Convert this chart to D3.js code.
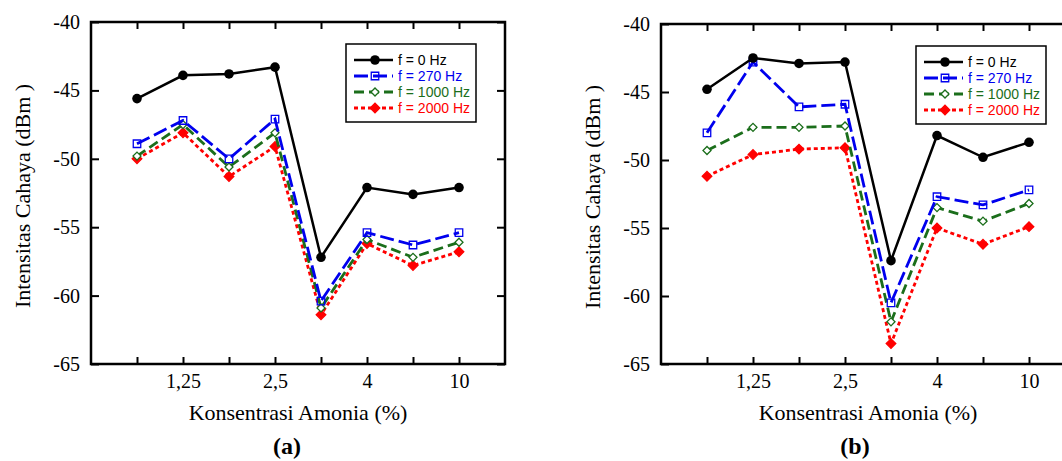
<!DOCTYPE html>
<html>
<head>
<meta charset="utf-8">
<script src="https://cdn.jsdelivr.net/npm/d3@7"></script>
<style>
  body { margin: 0; background: #fff; }
  svg { display: block; }
  .axis text { font-family: "Liberation Serif", "Times New Roman", serif; font-size: 20px; fill: #000; }
</style>
</head>
<body>
<svg id="chart" width="1062" height="461"></svg>
<script>
// x positions (8 concentrations), only every second one is labelled
const positions = [0, 1, 2, 3, 4, 5, 6, 7];
const tickLabels = ["", "1,25", "", "2,5", "", "4", "", "10"];
const yTicks = [-40, -45, -50, -55, -60, -65];
const seriesNames = ["f = 0 Hz", "f = 270 Hz", "f = 1000 Hz", "f = 2000 Hz"];

// panel (a)
const a0 = [-45.6, -43.9, -43.8, -43.3, -57.2, -52.1, -52.6, -52.1];
const a270 = [-48.9, -47.2, -50.0, -47.1, -60.4, -55.4, -56.3, -55.4];
const a1000 = [-49.8, -47.5, -50.6, -48.1, -60.9, -55.9, -57.2, -56.1];
const a2000 = [-50.0, -48.1, -51.3, -49.1, -61.4, -56.2, -57.8, -56.8];

// panel (b)
const b0 = [-44.8, -42.5, -42.9, -42.8, -57.4, -48.2, -49.8, -48.7];
const b270 = [-48.0, -42.8, -46.1, -45.9, -60.5, -52.7, -53.3, -52.2];
const b1000 = [-49.3, -47.6, -47.6, -47.5, -61.9, -53.5, -54.5, -53.2];
const b2000 = [-51.2, -49.6, -49.2, -49.1, -63.5, -55.0, -56.2, -54.9];

const styles = [
  { color: "#000000", dash: null, shape: "circle", size: 72, fill: "#000000", width: 2.5 },
  { color: "#0000ee", dash: "14,5", shape: "square", size: 56, fill: "none", width: 2.8 },
  { color: "#1b6e1b", dash: "10,5", shape: "diamond", size: 32, fill: "#ffffff", width: 2.8 },
  { color: "#ff0000", dash: "4,3", shape: "diamond", size: 46, fill: "#ff0000", width: 2.8 },
];

const panels = [
  { left: 91, top: 22, h: 342, series: [a0, a270, a1000, a2000], label: "(a)", labelX: 287, yTitleX: 22 },
  { left: 661, top: 24, h: 340, series: [b0, b270, b1000, b2000], label: "(b)", labelX: 855, yTitleX: 592 },
];
const w = 414;

const svg = d3.select("#chart");
const serif = '"Liberation Serif", "Times New Roman", serif';
const sans = '"Liberation Sans", Arial, sans-serif';

function marker(sel, st) {
  const type = st.shape === "circle" ? d3.symbolCircle : d3.symbolSquare;
  sel.append("path")
    .attr("d", d3.symbol().type(type).size(st.size))
    .attr("transform", st.shape === "diamond" ? "rotate(45)" : null)
    .attr("fill", st.fill)
    .attr("stroke", st.color)
    .attr("stroke-width", st.shape === "circle" ? 0 : 1.3);
}

panels.forEach((p) => {
  const h = p.h;
  const g = svg.append("g").attr("transform", `translate(${p.left},${p.top})`);

  const x = d3.scalePoint().domain(positions).range([0, w]).padding(1);
  const y = d3.scaleLinear().domain([-65, -40]).range([h, 0]);

  // axes, ticks pointing inward on all four sides
  g.append("g").attr("class", "axis")
    .attr("transform", `translate(0,${h})`)
    .call(d3.axisBottom(x).tickSize(-7).tickSizeOuter(0).tickFormat((i) => tickLabels[i]))
    .call((a) => a.selectAll("text").attr("y", 24).attr("dy", null));
  g.append("g").attr("class", "axis")
    .call(d3.axisTop(x).tickSize(-7).tickSizeOuter(0).tickFormat(""));
  g.append("g").attr("class", "axis")
    .call(d3.axisLeft(y).tickValues(yTicks).tickSize(-8).tickSizeOuter(0).tickPadding(11).tickFormat((d) => String(d)));
  g.append("g").attr("class", "axis")
    .attr("transform", `translate(${w},0)`)
    .call(d3.axisRight(y).tickValues(yTicks).tickSize(-8).tickSizeOuter(0).tickFormat(""));
  g.selectAll(".axis .domain").remove();
  g.selectAll(".axis line").attr("stroke", "#000").attr("stroke-width", 2);

  g.append("rect")
    .attr("width", w).attr("height", h)
    .attr("fill", "none").attr("stroke", "#000").attr("stroke-width", 2.5);

  const line = d3.line().x((d, i) => x(positions[i])).y((d) => y(d));

  // draw red first so black ends on top
  [3, 2, 1, 0].forEach((k) => {
    const st = styles[k];
    const vals = p.series[k];
    g.append("path")
      .datum(vals)
      .attr("d", line)
      .attr("fill", "none")
      .attr("stroke", st.color)
      .attr("stroke-width", st.width)
      .attr("stroke-dasharray", st.dash);
    g.append("g").selectAll("g")
      .data(vals)
      .join("g")
      .attr("transform", (d, i) => `translate(${x(positions[i])},${y(d)})`)
      .each(function () { marker(d3.select(this), st); });
  });

  // legend
  const lg = g.append("g").attr("transform", "translate(255,22)");
  lg.append("rect").attr("width", 130).attr("height", 78)
    .attr("fill", "#fff").attr("stroke", "#000").attr("stroke-width", 1.5);
  seriesNames.forEach((name, k) => {
    const st = styles[k];
    const row = lg.append("g").attr("transform", `translate(0,${16 + k * 16})`);
    row.append("line").attr("x1", 8).attr("x2", 47)
      .attr("stroke", st.color).attr("stroke-width", st.width)
      .attr("stroke-dasharray", st.dash);
    marker(row.append("g").attr("transform", "translate(29,0)"), st);
    row.append("text").attr("x", 52).attr("dy", "0.35em")
      .attr("font-family", sans).attr("font-size", "14px")
      .attr("fill", st.color).text(name);
  });

  // titles
  svg.append("text")
    .attr("x", p.left + w / 2).attr("y", 420)
    .attr("text-anchor", "middle")
    .attr("font-family", serif).attr("font-size", "22px")
    .text("Konsentrasi Amonia (%)");
  svg.append("text")
    .attr("transform", `translate(${p.yTitleX},${p.top + h / 2 + 3}) rotate(-90)`)
    .attr("text-anchor", "middle").attr("dy", "0.35em")
    .attr("font-family", serif).attr("font-size", "22px")
    .text("Intensitas Cahaya (dBm )");
  svg.append("text")
    .attr("x", p.labelX).attr("y", 454)
    .attr("text-anchor", "middle")
    .attr("font-family", serif).attr("font-size", "24px").attr("font-weight", "bold")
    .text(p.label);
});
</script>
</body>
</html>
